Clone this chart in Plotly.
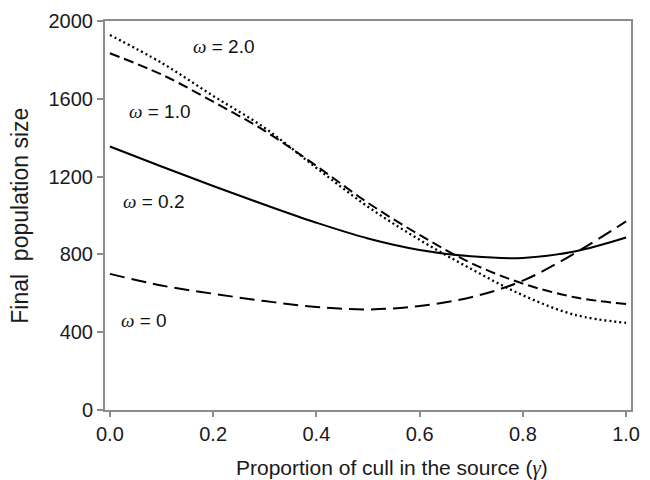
import plotly.graph_objects as go

gamma = [0.0, 0.1, 0.2, 0.3, 0.4, 0.5, 0.6, 0.7, 0.8, 0.9, 1.0]
w0 = [700, 640, 598, 560, 530, 517, 535, 580, 665, 805, 970]
w02 = [1355, 1252, 1152, 1055, 963, 882, 823, 790, 782, 815, 887]
w10 = [1834, 1725, 1585, 1435, 1255, 1065, 900, 755, 650, 580, 545]
w20 = [1928, 1785, 1615, 1450, 1245, 1045, 875, 725, 590, 490, 448]

labels = ["0", "0.2", "1.0", "2.0"]
label_pos = [(0.017, 462), (0.021, 1072), (0.034, 1533), (0.158, 1867)]

xticks = [0.0, 0.2, 0.4, 0.6, 0.8, 1.0]
yticks = [0, 400, 800, 1200, 1600, 2000]

x_title = "Proportion of cull in the source (<span style='font-family:Liberation Serif'><i>γ</i></span>)"
y_title = "Final\u00a0 population size"

fig = go.Figure()
styles = [
    (w0, "15px,7px", 2),
    (w02, "solid", 2),
    (w10, "10px,5px", 2),
    (w20, "2px,3px", 2.3),
]
for ys, dash, lw in styles:
    fig.add_trace(go.Scatter(
        x=gamma, y=ys, mode="lines",
        line=dict(color="black", width=lw, dash=dash, shape="spline", smoothing=1.0),
        showlegend=False, hoverinfo="skip",
    ))

for lab, (lx, ly) in zip(labels, label_pos):
    fig.add_annotation(
        x=lx, y=ly, xref="x", yref="y", showarrow=False,
        text="<span style='font-family:Liberation Serif'><i>ω</i></span> = " + lab,
        font=dict(family="Liberation Sans, Arial", size=19, color="#111"),
        xanchor="left", yanchor="middle",
    )

fig.add_annotation(
    x=0.546, y=-0.149, xref="paper", yref="paper", showarrow=False,
    text=x_title, xanchor="center", yanchor="middle",
    font=dict(family="Liberation Sans, Arial", size=21, color="#1a1a1a"),
)
fig.add_annotation(
    x=-0.163, y=0.5, xref="paper", yref="paper", showarrow=False,
    text=y_title, textangle=-90, xanchor="center", yanchor="middle",
    font=dict(family="Liberation Sans, Arial", size=23, color="#1a1a1a"),
)

axis_common = dict(
    showline=True, linecolor="#8c8c8c", linewidth=2, mirror=True,
    showgrid=False, zeroline=False, ticks="outside", tickcolor="#8c8c8c",
    tickfont=dict(family="Liberation Sans, Arial", size=20, color="#1a1a1a"),
)

fig.update_xaxes(
    range=[-0.0095, 1.0095], tickvals=xticks, ticktext=[f"{v:.1f}" for v in xticks],
    ticklen=5, tickwidth=1.5, **axis_common,
)
fig.update_yaxes(
    range=[0, 2000], tickvals=yticks, ticktext=[str(v) for v in yticks],
    ticklen=6, tickwidth=1.5, **axis_common,
)

fig.update_layout(
    width=650, height=480,
    margin=dict(l=105, r=10, t=20, b=70),
    plot_bgcolor="white", paper_bgcolor="white",
)

fig.write_html("out.html")
